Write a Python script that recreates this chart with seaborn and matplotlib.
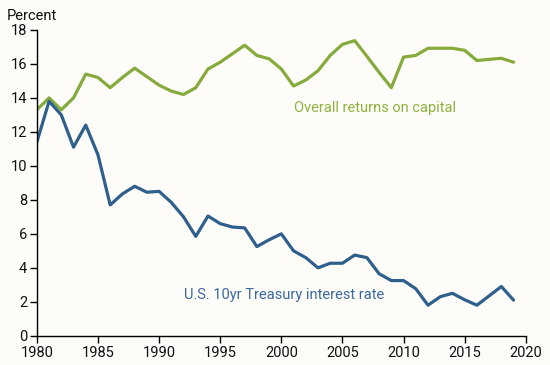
import numpy as np
import pandas as pd
import matplotlib
matplotlib.use("Agg")
import matplotlib.pyplot as plt
import seaborn as sns

# values
years = list(range(1980, 2020))
capital_returns = [13.3, 14.0, 13.3, 14.0, 15.4, 15.2, 14.6, 15.2, 15.75, 15.25,
                   14.75, 14.4, 14.2, 14.6, 15.7, 16.1, 16.6, 17.1, 16.5, 16.3,
                   15.7, 14.7, 15.05, 15.6, 16.5, 17.15, 17.37, 16.45, 15.5, 14.6,
                   16.4, 16.5, 16.92, 16.92, 16.92, 16.8, 16.2, 16.27, 16.33, 16.1]
treasury_rate = [11.4, 13.8, 13.0, 11.1, 12.4, 10.65, 7.7, 8.35, 8.8, 8.45,
                 8.5, 7.85, 7.0, 5.85, 7.05, 6.6, 6.4, 6.35, 5.25, 5.65,
                 6.0, 5.0, 4.6, 4.0, 4.27, 4.27, 4.75, 4.6, 3.65, 3.25,
                 3.25, 2.77, 1.8, 2.3, 2.5, 2.12, 1.8, 2.35, 2.9, 2.1]
x_ticks = [1980, 1985, 1990, 1995, 2000, 2005, 2010, 2015, 2020]
y_ticks = [0, 2, 4, 6, 8, 10, 12, 14, 16, 18]

df = pd.DataFrame({"year": years,
                   "capital": capital_returns,
                   "treasury": treasury_rate})

sns.set_style("ticks")
plt.rcParams["font.family"] = ["Roboto", "DejaVu Sans"]

green = "#86ab3c"
blue = "#2f5f8c"
bg = "#fdfcf9"

fig = plt.figure(figsize=(5.5, 3.65), dpi=100, facecolor=bg)
ax = fig.add_axes([0.067, 0.08, 0.889, 0.838], facecolor=bg)

sns.lineplot(data=df, x="year", y="capital", color=green, linewidth=2.3, ax=ax)
sns.lineplot(data=df, x="year", y="treasury", color=blue, linewidth=2.3, ax=ax)

ax.set_xlim(1980, 2020)
ax.set_ylim(0, 18)
ax.set_xticks(x_ticks)
ax.set_yticks(y_ticks)
ax.set_xlabel("")
ax.set_ylabel("")
ax.tick_params(axis="both", labelsize=10.5, length=5, width=1, color="black",
               labelcolor="#111111", pad=2)
for side in ["top", "right"]:
    ax.spines[side].set_visible(False)
for side in ["left", "bottom"]:
    ax.spines[side].set_color("black")
    ax.spines[side].set_linewidth(1)

ax.text(2001.0, 13.4, "Overall returns on capital", color="#8db33f",
        fontsize=10.5, va="center", ha="left")
ax.text(1992.0, 2.4, "U.S. 10yr Treasury interest rate", color="#3c6a9e",
        fontsize=10.5, va="center", ha="left")
fig.text(0.013, 0.957, "Percent", fontsize=10.5, color="#111111", va="center")

fig.savefig("out.png", dpi=100, facecolor=bg)
